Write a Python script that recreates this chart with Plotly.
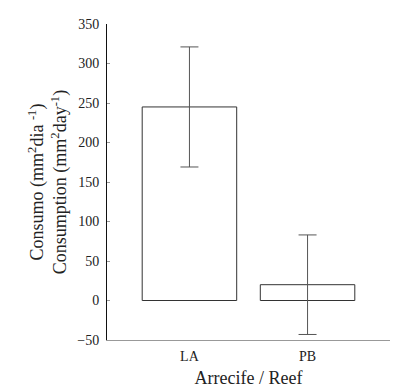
import plotly.graph_objects as go

categories = ["LA", "PB"]
consumption = [245, 20]
error_sd = [76, 63]
y_ticks = [-50, 0, 50, 100, 150, 200, 250, 300, 350]

FONT = "Liberation Serif, Times New Roman, serif"

fig = go.Figure()
fig.add_trace(go.Bar(
    x=categories,
    y=consumption,
    width=0.8,
    marker=dict(color="white", line=dict(color="#333333", width=1)),
    error_y=dict(type="data", array=error_sd, visible=True,
                 color="#555555", thickness=1, width=9),
))

fig.update_layout(
    width=403, height=392,
    margin=dict(l=107, r=13, t=24, b=52, autoexpand=False),
    paper_bgcolor="white", plot_bgcolor="white",
    showlegend=False,
    font=dict(family=FONT, size=14, color="#222222"),
    bargap=0.2,
)
fig.update_xaxes(
    type="category",
    range=[-0.698, 1.698],
    automargin=False,
    showline=True, linecolor="#999999", linewidth=1,
    ticks="", showgrid=False, zeroline=False,
    ticklabelstandoff=3,
    tickfont=dict(family=FONT, size=14, color="#222222"),
    title=dict(text="Arrecife / Reef", font=dict(family=FONT, size=18, color="#222222"), standoff=8),
)
fig.update_yaxes(
    range=[-50, 350],
    tickvals=y_ticks,
    automargin=False,
    showline=True, linecolor="#111111", linewidth=1,
    ticks="inside", ticklen=3, tickcolor="#999999",
    ticklabelstandoff=4,
    showgrid=False, zeroline=False,
    tickfont=dict(family=FONT, size=14, color="#222222"),
    title=dict(
        text="Consumo (mm<sup>2</sup>dia <sup>-1</sup>)<br>Consumption (mm<sup>2</sup>day<sup>-1</sup>)",
        font=dict(family=FONT, size=18, color="#222222"),
        standoff=5,
    ),
)

fig.write_html("out.html", config={"displayModeBar": False},
               post_script="document.body.style.margin='0';")
